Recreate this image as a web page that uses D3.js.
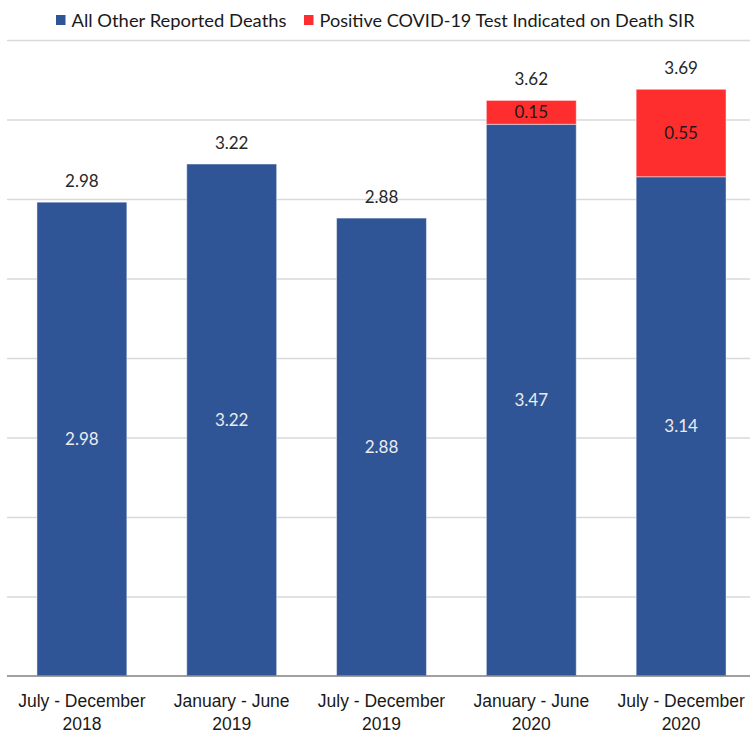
<!DOCTYPE html>
<html>
<head>
<meta charset="utf-8">
<script src="https://cdn.jsdelivr.net/npm/d3@7"></script>
<style>
  html, body { margin: 0; padding: 0; background: #fff; }
  svg { display: block; font-family: Lato, "Open Sans", sans-serif; }
</style>
</head>
<body>
<svg id="chart" width="750" height="734"></svg>
<script>
// Half-year periods (two-line axis labels)
const periods = ["July - December|2018", "January - June|2019", "July - December|2019", "January - June|2020", "July - December|2020"];
// Death SIR split into two stacked components
const otherDeaths = [2.98, 3.22, 2.88, 3.47, 3.14];
const covidDeaths = [0, 0, 0, 0.15, 0.55];
const totals = [2.98, 3.22, 2.88, 3.62, 3.69];
const seriesNames = ["All Other Reported Deaths", "Positive COVID-19 Test Indicated on Death SIR"];
const yTicks = [0, 0.5, 1, 1.5, 2, 2.5, 3, 3.5, 4];

const colors = { other: "#2F5597", covid: "#FF2E2E" };

const svg = d3.select("#chart");
const W = 750;
const margin = { left: 7, right: -6, top: 40, bottom: 58 };
const plotBottom = 676;

const x = d3.scaleBand()
  .domain(periods)
  .range([margin.left, W - margin.right])
  .paddingInner(0.4)
  .paddingOuter(0.2);

const y = d3.scaleLinear().domain([0, 4]).range([plotBottom, margin.top]);

// horizontal gridlines
const grid = svg.append("g")
  .attr("transform", `translate(${margin.left},0)`)
  .call(d3.axisLeft(y).tickValues(yTicks).tickSize(-(W - margin.left)).tickFormat(""));
grid.select(".domain").remove();
grid.selectAll(".tick line").attr("stroke", "#d9d9d9").attr("stroke-width", 1.5);
grid.selectAll(".tick").filter(d => d === 0).remove();

// stacked data
const rows = periods.map((p, i) => ({ period: p, other: otherDeaths[i], covid: covidDeaths[i], total: totals[i] }));
const stack = d3.stack().keys(["other", "covid"])(rows);

const layers = svg.append("g").selectAll("g")
  .data(stack)
  .join("g")
  .attr("fill", d => colors[d.key]);

layers.selectAll("rect")
  .data(d => d.filter(s => s[1] - s[0] > 0))
  .join("rect")
  .attr("x", d => x(d.data.period))
  .attr("width", x.bandwidth())
  .attr("y", d => y(d[1]))
  .attr("height", d => y(d[0]) - y(d[1]))
  .attr("stroke", "#ffffff")
  .attr("stroke-opacity", 0.45)
  .attr("stroke-width", 1);

// segment value labels
const segLabels = svg.append("g").attr("font-size", 17).attr("text-anchor", "middle");
stack.forEach(layer => {
  layer.filter(s => s[1] - s[0] > 0).forEach(s => {
    const v = layer.key === "other" ? s.data.other : s.data.covid;
    segLabels.append("text")
      .attr("x", x(s.data.period) + x.bandwidth() / 2)
      .attr("y", (y(s[0]) + y(s[1])) / 2)
      .attr("dy", "0.36em")
      .attr("fill", layer.key === "other" ? "#ececec" : "#1a1a1a")
      .text(d3.format(".2f")(v));
  });
});

// total labels above the bars
svg.append("g").attr("font-size", 17).attr("text-anchor", "middle")
  .selectAll("text")
  .data(rows)
  .join("text")
  .attr("x", d => x(d.period) + x.bandwidth() / 2)
  .attr("y", d => y(d.total) - 15)
  .attr("fill", "#262626")
  .text(d => d3.format(".2f")(d.total));

// x axis baseline and category labels
const xAxis = svg.append("g")
  .attr("transform", `translate(0,${plotBottom})`)
  .call(d3.axisBottom(x).tickSize(0).tickFormat(""));
xAxis.select(".domain").attr("stroke", "#808080").attr("stroke-width", 1.5)
  .attr("d", `M${margin.left},0H${W}`);

xAxis.selectAll(".tick").each(function (d) {
  const t = d3.select(this).append("text")
    .attr("fill", "#1a1a1a")
    .attr("font-size", 17.5)
    .attr("text-anchor", "middle");
  d.split("|").forEach((line, i) => {
    t.append("tspan").attr("x", 0).attr("y", 31 + i * 22.5).text(line);
  });
});

// legend
const legend = svg.append("g").attr("font-size", 16.5);
const legendItems = [
  { name: seriesNames[0], color: colors.other, x: 56, w: 215 },
  { name: seriesNames[1], color: colors.covid, x: 304, w: 375 }
];
legendItems.forEach(item => {
  legend.append("rect").attr("x", item.x).attr("y", 15).attr("width", 9.5).attr("height", 10).attr("fill", item.color);
  legend.append("text").attr("x", item.x + 15.5).attr("y", 26.5).attr("fill", "#1a1a1a")
    .attr("textLength", item.w).attr("lengthAdjust", "spacingAndGlyphs")
    .text(item.name);
});
</script>
</body>
</html>
